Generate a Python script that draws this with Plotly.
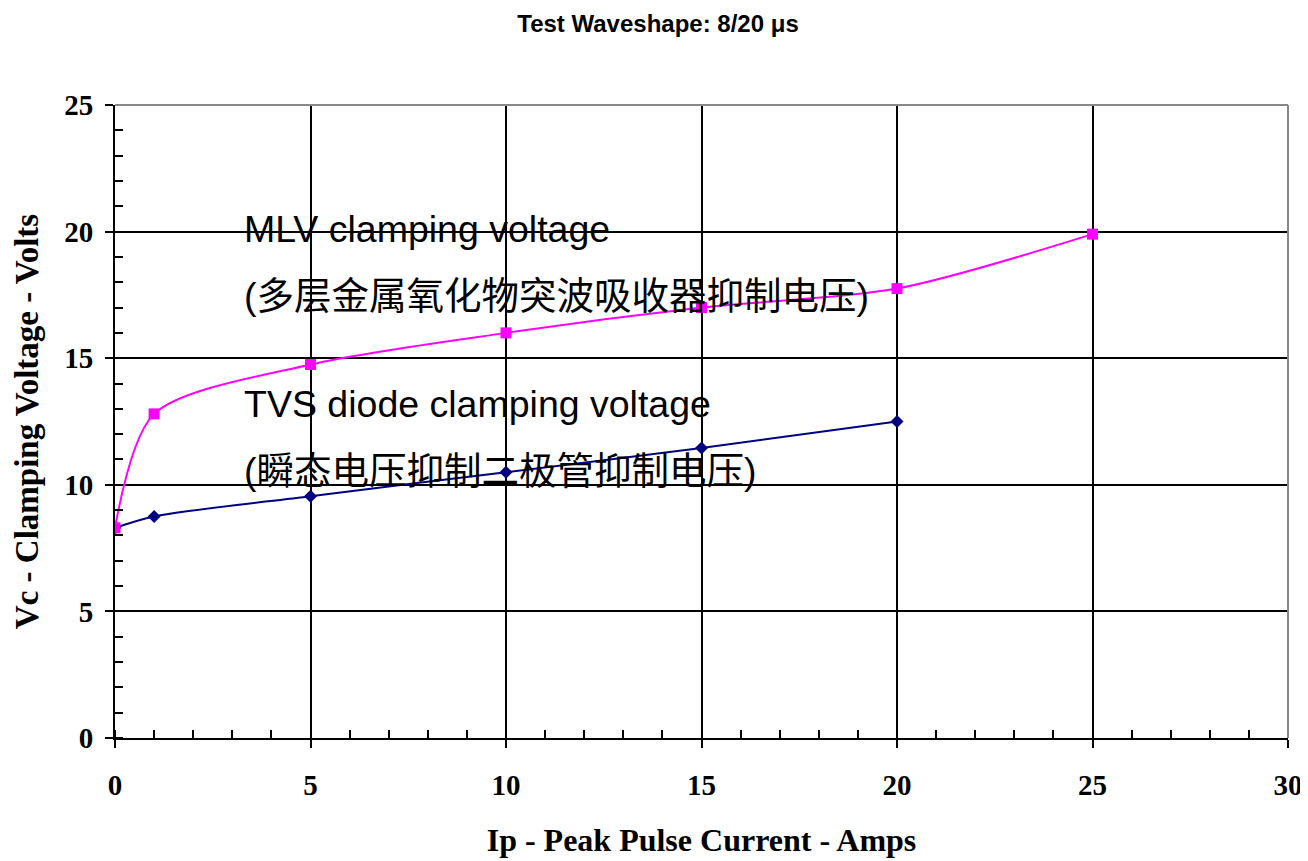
import plotly.graph_objects as go

current = [0, 1, 5, 10, 15, 20, 25]
mlv_voltage = [8.3, 12.8, 14.75, 16.0, 17.0, 17.75, 19.9]
tvs_current = [0, 1, 5, 10, 15, 20]
tvs_voltage = [8.3, 8.75, 9.55, 10.5, 11.45, 12.5]

title_text = "Test Waveshape: 8/20 μs"
x_title = "Ip - Peak Pulse Current - Amps"
y_title = "Vc - Clamping Voltage - Volts"

fig = go.Figure()
fig.add_trace(go.Scatter(
    x=tvs_current, y=tvs_voltage, mode="lines+markers",
    line=dict(color="#000080", width=2, shape="spline", smoothing=0.8),
    marker=dict(symbol="diamond", size=10, color="#000080"),
    showlegend=False))
fig.add_trace(go.Scatter(
    x=current, y=mlv_voltage, mode="lines+markers",
    line=dict(color="#FF00FF", width=2, shape="spline", smoothing=0.8),
    marker=dict(symbol="square", size=11, color="#FF00FF"),
    showlegend=False))

serif = "Liberation Serif, Times New Roman, serif"
axis_common = dict(
    showgrid=True, gridcolor="black", gridwidth=1.5,
    zeroline=False, showline=True, linecolor="black", linewidth=2,
    ticks="outside", ticklen=8, tickwidth=2, tickcolor="black",
    tickfont=dict(family=serif, size=29, color="black", weight="bold"),
    automargin=False,
)
fig.update_xaxes(range=[0, 30], dtick=5, tick0=0,
                 minor=dict(ticks="inside", ticklen=8, tickwidth=2, dtick=1, tickcolor="black", showgrid=False),
                 ticklabelstandoff=12,
                 title=dict(text=x_title, font=dict(family=serif, size=32, color="black", weight="bold"), standoff=29),
                 **axis_common)
fig.update_yaxes(range=[0, 25], dtick=5, tick0=0,
                 minor=dict(ticks="inside", ticklen=8, tickwidth=2, dtick=1, tickcolor="black", showgrid=False),
                 ticklabelstandoff=6,
                 title=dict(text=y_title, font=dict(family=serif, size=33, color="black", weight="bold"), standoff=16),
                 **axis_common)

# top and right frame lines (gray)
fig.add_shape(type="line", xref="paper", yref="paper", x0=0, x1=1, y0=1, y1=1,
              line=dict(color="#888888", width=2))
fig.add_shape(type="line", xref="paper", yref="paper", x0=1, x1=1, y0=0, y1=1,
              line=dict(color="#888888", width=2))

sans = "Liberation Sans, Arial, Noto Sans CJK SC, sans-serif"
cjk = "Liberation Sans, Noto Sans CJK SC, sans-serif"
labels = [
    ("MLV clamping voltage", 20.1, 37.5, sans),
    ("(多层金属氧化物突波吸收器抑制电压)", 17.45, 37.5, cjk),
    ("TVS diode clamping voltage", 13.2, 37.5, sans),
    ("(瞬态电压抑制二极管抑制电压)", 10.55, 37.5, cjk),
]
for txt, yv, sz, fam in labels:
    fig.add_annotation(x=3.25, y=yv, xref="x", yref="y", text=txt, showarrow=False,
                       xanchor="left", yanchor="middle",
                       font=dict(family=fam, size=sz, color="black"))

fig.update_layout(
    width=1300, height=853,
    margin=dict(l=107, r=20, t=97, b=123),
    paper_bgcolor="white", plot_bgcolor="white",
    title=dict(text=title_text, x=0.5, xanchor="center", y=0.982, yanchor="middle",
               font=dict(family="Liberation Sans, Arial, sans-serif", size=24, color="black", weight="bold")),
)

fig.write_html("out.html")
